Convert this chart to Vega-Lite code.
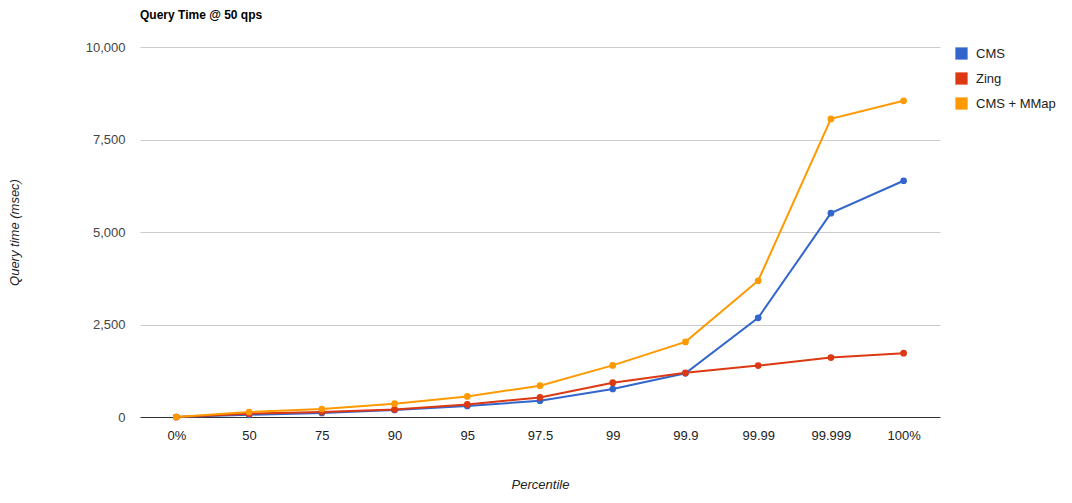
{
  "$schema": "https://vega.github.io/schema/vega-lite/v6.json",
  "autosize": {"type": "none"},
  "padding": {"left": 140, "top": 47, "right": 132, "bottom": 86},
  "width": 800,
  "height": 370,
  "background": "white",
  "title": {
    "text": "Query Time @ 50 qps",
    "anchor": "start",
    "frame": "group",
    "offset": 19,
    "font": "Liberation Sans",
    "fontSize": 12,
    "fontWeight": "bold",
    "color": "#000000"
  },
  "config": {
    "view": {"stroke": null},
    "font": "Liberation Sans"
  },
  "data": {
    "values": [
      {"p": "0%", "series": "CMS", "ms": 0},
      {"p": "50", "series": "CMS", "ms": 60},
      {"p": "75", "series": "CMS", "ms": 108},
      {"p": "90", "series": "CMS", "ms": 189},
      {"p": "95", "series": "CMS", "ms": 297},
      {"p": "97.5", "series": "CMS", "ms": 441},
      {"p": "99", "series": "CMS", "ms": 757},
      {"p": "99.9", "series": "CMS", "ms": 1180},
      {"p": "99.99", "series": "CMS", "ms": 2680},
      {"p": "99.999", "series": "CMS", "ms": 5509},
      {"p": "100%", "series": "CMS", "ms": 6385},
      {"p": "0%", "series": "Zing", "ms": 0},
      {"p": "50", "series": "Zing", "ms": 90},
      {"p": "75", "series": "Zing", "ms": 135},
      {"p": "90", "series": "Zing", "ms": 205},
      {"p": "95", "series": "Zing", "ms": 341},
      {"p": "97.5", "series": "Zing", "ms": 530},
      {"p": "99", "series": "Zing", "ms": 927},
      {"p": "99.9", "series": "Zing", "ms": 1195},
      {"p": "99.99", "series": "Zing", "ms": 1390},
      {"p": "99.999", "series": "Zing", "ms": 1607},
      {"p": "100%", "series": "Zing", "ms": 1724},
      {"p": "0%", "series": "CMS + MMap", "ms": 0},
      {"p": "50", "series": "CMS + MMap", "ms": 135},
      {"p": "75", "series": "CMS + MMap", "ms": 216},
      {"p": "90", "series": "CMS + MMap", "ms": 360},
      {"p": "95", "series": "CMS + MMap", "ms": 557},
      {"p": "97.5", "series": "CMS + MMap", "ms": 846},
      {"p": "99", "series": "CMS + MMap", "ms": 1395},
      {"p": "99.9", "series": "CMS + MMap", "ms": 2030},
      {"p": "99.99", "series": "CMS + MMap", "ms": 3683},
      {"p": "99.999", "series": "CMS + MMap", "ms": 8057},
      {"p": "100%", "series": "CMS + MMap", "ms": 8545}
    ]
  },
  "mark": {
    "type": "line",
    "strokeWidth": 2,
    "point": {"filled": true, "size": 45}
  },
  "encoding": {
    "x": {
      "field": "p",
      "type": "ordinal",
      "sort": ["0%", "50", "75", "90", "95", "97.5", "99", "99.9", "99.99", "99.999", "100%"],
      "scale": {"type": "point", "padding": 0.5},
      "axis": {
        "title": "Percentile",
        "titleFont": "Liberation Sans",
        "titleFontStyle": "italic",
        "titleFontWeight": "normal",
        "titleFontSize": 13,
        "titleColor": "#222222",
        "titlePadding": 36,
        "labelFont": "Liberation Sans",
        "labelFontSize": 13,
        "labelColor": "#222222",
        "labelPadding": 12,
        "labelAngle": 0,
        "ticks": false,
        "domainColor": "#333333",
        "domainWidth": 1,
        "grid": false
      }
    },
    "y": {
      "field": "ms",
      "type": "quantitative",
      "scale": {"domain": [0, 10000], "nice": false},
      "axis": {
        "title": "Query time (msec)",
        "titleFont": "Liberation Sans",
        "titleFontStyle": "italic",
        "titleFontWeight": "normal",
        "titleFontSize": 13,
        "titleColor": "#222222",
        "titlePadding": 64,
        "values": [0, 2500, 5000, 7500, 10000],
        "format": ",.0f",
        "labelFont": "Liberation Sans",
        "labelFontSize": 13,
        "labelColor": "#444444",
        "labelPadding": 15,
        "ticks": false,
        "domain": false,
        "gridColor": "#cccccc",
        "gridWidth": 1
      }
    },
    "color": {
      "field": "series",
      "type": "nominal",
      "sort": ["CMS", "Zing", "CMS + MMap"],
      "scale": {
        "domain": ["CMS", "Zing", "CMS + MMap"],
        "range": ["#3366cc", "#dc3912", "#ff9900"]
      },
      "legend": {
        "title": null,
        "orient": "none",
        "legendX": 815,
        "legendY": 0,
        "symbolType": "square",
        "symbolSize": 150,
        "symbolStrokeWidth": 0,
        "labelFont": "Liberation Sans",
        "labelFontSize": 13,
        "labelColor": "#222222",
        "labelOffset": 8,
        "rowPadding": 11
      }
    }
  }
}
